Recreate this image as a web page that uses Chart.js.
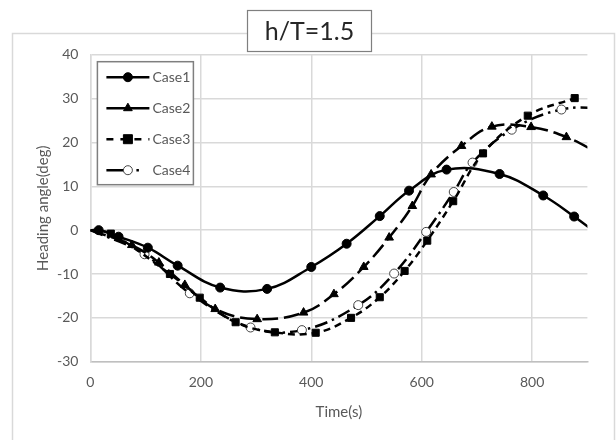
<!DOCTYPE html>
<html>
<head>
<meta charset="utf-8">
<script src="https://cdn.jsdelivr.net/npm/chart.js"></script>
<style>
  html, body { margin: 0; padding: 0; background: #fff; }
  #wrap { width: 616px; height: 440px; position: relative; }
</style>
</head>
<body>
<div id="wrap"><canvas id="grafik" width="616" height="440"></canvas></div>
<script>
const chartTitle = 'h/T=1.5'
const labels = ['Case1', 'Case2', 'Case3', 'Case4']

// time (s) and heading angle (deg)
const timeCase1 = [0, 15, 51, 104, 158, 235, 320, 400, 464, 524, 577, 645, 741, 820, 876, 935]
const angleCase1 = [0, 0, -1.5, -4.0, -8.1, -13.1, -13.4, -8.4, -3.1, 3.2, 9.0, 13.8, 12.8, 7.9, 3.1, -2.5]

const timeCase2 = [0, 75, 124, 171, 226, 302, 386, 441, 495, 541, 583, 617, 672, 727, 798, 862, 925]
const angleCase2 = [0, -3.4, -7.4, -12.5, -18.0, -20.3, -18.8, -14.6, -8.4, -1.7, 5.5, 12.7, 19.2, 23.6, 23.5, 21.2, 17.2]

const timeCase3 = [0, 37, 144, 198, 263, 334, 408, 472, 524, 569, 610, 657, 711, 792, 877]
const angleCase3 = [0, -0.8, -10.0, -15.4, -21.0, -23.3, -23.4, -20.0, -15.3, -9.3, -2.4, 6.6, 17.5, 26.1, 30.1]

const timeCase4 = [0, 98, 180, 290, 383, 485, 550, 608, 658, 692, 763, 853, 940]
const angleCase4 = [0, -5.5, -14.4, -22.2, -22.8, -17.1, -9.9, -0.4, 8.7, 15.4, 22.9, 27.5, 27.8]

const xTicks = [0, 200, 400, 600, 800]
const yTicks = [-30, -20, -10, 0, 10, 20, 30, 40]

const FONT = 'Lato, "Open Sans", sans-serif'
const GREY = '#595959'

function pts(xs, ys) {
    return xs.map((x, i) => ({ x, y: ys[i] }))
}

// hide the marker on the origin point, the curves start there without one
const markerSize = r => c => (c.raw && c.raw.x === 0 ? 0 : r)

const styles = [
    { dash: [], legendDash: [], point: 'circle', fill: '#000', r: 4.5 },
    { dash: [16, 6], legendDash: [], point: 'triangle', fill: '#000', r: 5 },
    { dash: [7, 5], legendDash: [7, 7], point: 'rect', fill: '#000', r: 5 },
    { dash: [13, 5, 2.5, 5], legendDash: [22, 8, 2.5, 20], point: 'circle', fill: '#fff', r: 4.5 }
]

const series = [
    pts(timeCase1, angleCase1),
    pts(timeCase2, angleCase2),
    pts(timeCase3, angleCase3),
    pts(timeCase4, angleCase4)
]

const datasets = series.map((data, i) => ({
    label: labels[i],
    data,
    showLine: true,
    borderColor: '#000',
    borderWidth: 2.5,
    borderDash: styles[i].dash,
    tension: 0.4,
    pointStyle: styles[i].point,
    pointRadius: markerSize(styles[i].r),
    pointHoverRadius: markerSize(styles[i].r),
    pointBackgroundColor: styles[i].fill,
    pointBorderColor: i === 3 ? '#444' : '#000',
    pointBorderWidth: 1
}))

function drawMarker(ctx, style, x, y, r, fill, stroke) {
    ctx.save()
    ctx.setLineDash([])
    ctx.fillStyle = fill
    ctx.strokeStyle = stroke
    ctx.lineWidth = 1
    ctx.beginPath()
    if (style === 'circle') {
        ctx.arc(x, y, r, 0, Math.PI * 2)
    } else if (style === 'triangle') {
        ctx.moveTo(x, y - r)
        ctx.lineTo(x + r * 0.87, y + r * 0.5)
        ctx.lineTo(x - r * 0.87, y + r * 0.5)
        ctx.closePath()
    } else {
        ctx.rect(x - r * 0.9, y - r * 0.9, r * 1.8, r * 1.8)
    }
    ctx.fill()
    ctx.stroke()
    ctx.restore()
}

const framePlugin = {
    id: 'frame',
    beforeDraw(chart) {
        const ctx = chart.ctx
        ctx.save()
        ctx.fillStyle = '#fff'
        ctx.fillRect(0, 0, chart.width, chart.height)
        ctx.strokeStyle = '#d9d9d9'
        ctx.lineWidth = 1.5
        ctx.strokeRect(12.5, 33.5, 602, 430)
        ctx.restore()
    },
    afterDraw(chart) {
        const ctx = chart.ctx
        const area = chart.chartArea
        ctx.save()

        // title box
        ctx.fillStyle = '#fff'
        ctx.fillRect(247.5, 10.5, 124, 41)
        ctx.strokeStyle = '#7f7f7f'
        ctx.lineWidth = 1.2
        ctx.strokeRect(247.5, 10.5, 124, 41)
        ctx.fillStyle = '#262626'
        ctx.font = '25px ' + FONT
        ctx.textAlign = 'center'
        ctx.textBaseline = 'middle'
        ctx.fillText(chartTitle, 309.5, 31.5)

        // legend box inside the plot
        const lx = area.left + 7, ly = area.top + 7, lw = 96, lh = 123
        ctx.fillStyle = '#fff'
        ctx.fillRect(lx, ly, lw, lh)
        ctx.strokeStyle = '#7f7f7f'
        ctx.lineWidth = 1.5
        ctx.strokeRect(lx, ly, lw, lh)

        chart.data.datasets.forEach((ds, i) => {
            const y = ly + 15.5 + i * 31
            const x0 = lx + 9, x1 = lx + 52
            ctx.strokeStyle = '#000'
            ctx.lineWidth = 2.5
            ctx.setLineDash(styles[i].legendDash)
            ctx.beginPath()
            ctx.moveTo(x0, y)
            ctx.lineTo(x1, y)
            ctx.stroke()
            drawMarker(ctx, styles[i].point, (x0 + x1) / 2, y, styles[i].r,
                styles[i].fill, i === 3 ? '#444' : '#000')
            ctx.setLineDash([])
            ctx.fillStyle = GREY
            ctx.font = '14px ' + FONT
            ctx.textAlign = 'left'
            ctx.textBaseline = 'middle'
            ctx.fillText(ds.label, x1 + 3, y)
        })
        ctx.restore()
    }
}

new Chart(document.getElementById('grafik'), {
    type: 'scatter',
    data: { datasets },
    plugins: [framePlugin],
    options: {
        responsive: false,
        animation: false,
        layout: { padding: { left: 20, right: 28.6, top: 54.7, bottom: 0 } },
        plugins: {
            legend: { display: false },
            tooltip: { enabled: false }
        },
        scales: {
            x: {
                type: 'linear',
                min: 0,
                max: 900,
                afterFit: s => { s.height = 78.3 },
                afterBuildTicks: s => { s.ticks = xTicks.map(v => ({ value: v })) },
                ticks: { color: GREY, font: { family: FONT, size: 14 }, padding: 12 },
                grid: { color: '#d9d9d9', lineWidth: 1.5, drawTicks: false },
                border: { color: '#bfbfbf', width: 1.5 },
                title: {
                    display: true,
                    text: 'Time(s)',
                    color: GREY,
                    font: { family: FONT, size: 15 },
                    padding: { top: 4, bottom: 19 }
                }
            },
            y: {
                min: -30,
                max: 40,
                afterFit: s => { s.width = 70.4 },
                afterBuildTicks: s => { s.ticks = yTicks.map(v => ({ value: v })) },
                ticks: { color: GREY, font: { family: FONT, size: 14 }, padding: 12 },
                grid: { color: '#d9d9d9', lineWidth: 1.5, drawTicks: false },
                border: { color: '#d9d9d9', width: 1.5 },
                title: {
                    display: true,
                    text: 'Heading angle(deg)',
                    color: GREY,
                    font: { family: FONT, size: 15 },
                    padding: { top: 14, bottom: 4 }
                }
            }
        }
    }
})
</script>
</body>
</html>
